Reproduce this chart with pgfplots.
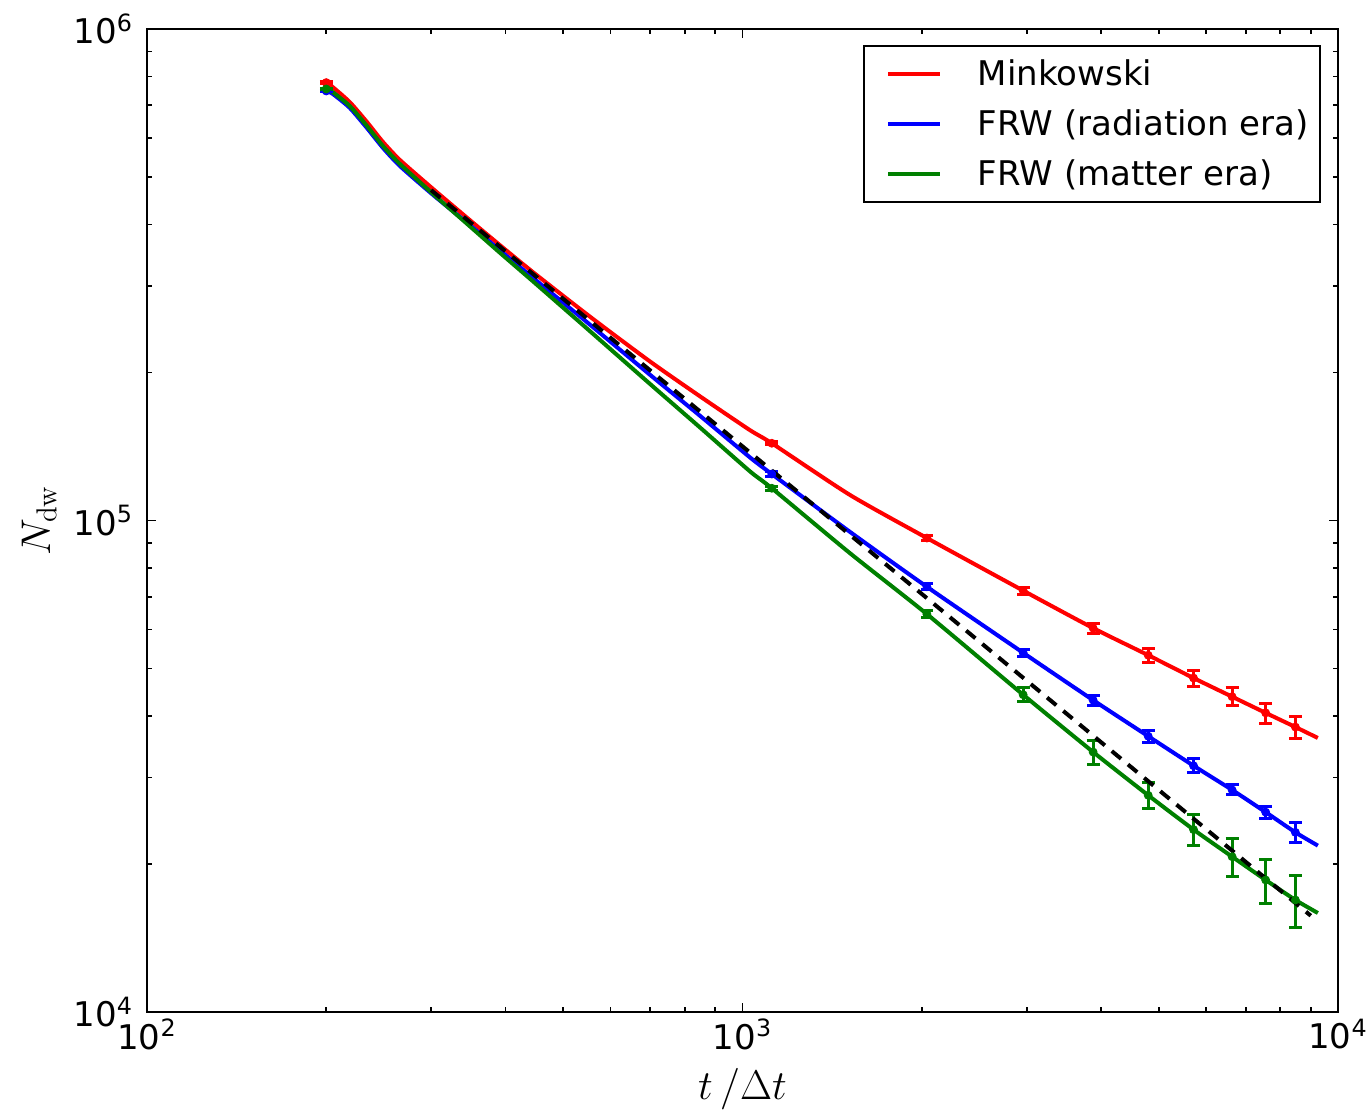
\documentclass[border=0pt]{standalone}
\usepackage[no-math]{fontspec}
\setmainfont{DejaVu Sans}
\usepackage{pgfplots}
\pgfplotsset{compat=1.18}

\definecolor{mplgreen}{rgb}{0,0.5,0}

\begin{document}
\begin{tikzpicture}
\useasboundingbox (-73.5pt,-51pt) rectangle (609.5pt,506pt);
\begin{axis}[
  at={(0pt,0pt)}, anchor=south west,
  scale only axis, width=595.5pt, height=491.5pt,
  xmode=log, ymode=log,
  xmin=100, xmax=10000, ymin=10000, ymax=1000000,
  axis line style={line width=1.2pt},
  tick align=inside,
  major tick length=4.7pt, minor tick length=2.5pt,
  tick style={black, line width=0.9pt},
  ticklabel style={font=\fontsize{17}{20}\selectfont},
  xticklabel={\pgfmathparse{int(round(\tick/ln(10)))}10\textsuperscript{\pgfmathresult}},
  yticklabel={\pgfmathparse{int(round(\tick/ln(10)))}10\textsuperscript{\pgfmathresult}},
  yticklabel style={xshift=-3.5pt},
  xlabel={$t\,/\Delta t$},
  ylabel={$N_{\mathrm{dw}}$},
  xlabel style={at={(axis description cs:0.5,-0.0895)}, anchor=base, font=\fontsize{20}{24}\selectfont},
  ylabel style={at={(axis description cs:-0.0907,0.5)}, anchor=center, font=\fontsize{20}{24}\selectfont},
  legend cell align=left,
  legend style={
    at={(1,1)}, anchor=north east, xshift=-8.65pt, yshift=-8pt,
    draw=black, line width=0.8pt, inner xsep=5.5pt, inner ysep=8pt,
    font=\fontsize{17}{20}\selectfont,
    row sep=13pt,
    nodes={inner sep=0pt, text height=12pt, text depth=0pt, anchor=west},
    /tikz/every odd column/.append style={column sep=17.85pt},
  },
  legend image code/.code={\path (0pt,0pt); \draw[#1] (5.65pt,0pt) -- (31.65pt,0pt);},
  errstyle/.style={only marks, mark=none, forget plot,
    error bars/.cd, y dir=both, y explicit, error mark=-,
    error bar style={#1, line width=1.5pt},
    error mark options={rotate=90, #1, line width=1.5pt, mark size=3.2pt}},
]

% Minkowski
\addplot[red, line width=2pt, smooth, tension=0.4] table {
t n
200 7.78e5
205 7.62e5
219 7.10e5
234 6.47e5
249 5.89e5
266 5.41e5
302 4.73e5
345 4.126e5
392 3.627e5
445 3.199e5
555 2.596e5
699 2.107e5
849 1.788e5
1029 1.527e5
1120 1.436e5
1515 1.127e5
2040 9.21e4
2960 7.20e4
3880 6.04e4
4800 5.32e4
5720 4.78e4
6640 4.38e4
7560 4.06e4
8480 3.80e4
9250 3.61e4
};
\addlegendentry{Minkowski}

% FRW radiation
\addplot[blue, line width=2pt, smooth, tension=0.4] table {
t n
200 7.48e5
205 7.38e5
219 6.91e5
234 6.29e5
249 5.73e5
266 5.26e5
302 4.60e5
345 4.03e5
392 3.54e5
445 3.115e5
555 2.50e5
699 1.980e5
849 1.632e5
1029 1.344e5
1120 1.243e5
1515 9.48e4
2040 7.33e4
2960 5.38e4
3880 4.31e4
4800 3.64e4
5720 3.17e4
6640 2.83e4
7560 2.55e4
8480 2.32e4
9250 2.18e4
};
\addlegendentry{FRW (radiation era)}

% FRW matter
\addplot[mplgreen, line width=2pt, smooth, tension=0.4] table {
t n
200 7.55e5
205 7.44e5
219 6.97e5
234 6.35e5
249 5.78e5
266 5.31e5
302 4.62e5
345 4.01e5
392 3.50e5
445 3.064e5
555 2.425e5
699 1.897e5
849 1.545e5
1029 1.259e5
1120 1.163e5
1515 8.58e4
2040 6.45e4
2960 4.42e4
3880 3.38e4
4800 2.76e4
5720 2.35e4
6640 2.07e4
7560 1.856e4
8480 1.69e4
9250 1.59e4
};
\addlegendentry{FRW (matter era)}

% error bars
\addplot[red, errstyle=red] table[x=t, y=n, y error=e] {
t n e
200 7.78e5 2550
1120 1.436e5 1009
2040 9.21e4 1079
2960 7.20e4 1181
3880 6.04e4 1415
4800 5.32e4 1745
5720 4.78e4 1792
6640 4.38e4 1847
7560 4.06e4 1902
8480 3.80e4 1958
};
\addplot[blue, errstyle=blue] table[x=t, y=n, y error=e] {
t n e
200 7.48e5 2000
1120 1.243e5 1339
2040 7.33e4 1030
2960 5.38e4 882
3880 4.31e4 1010
4800 3.64e4 1023
5720 3.17e4 1040
6640 2.83e4 663
7560 2.55e4 717
8480 2.32e4 1087
};
\addplot[mplgreen, errstyle=mplgreen] table[x=t, y=n, y error=e] {
t n e
200 7.55e5 2000
1120 1.163e5 1090
2040 6.45e4 1148
2960 4.42e4 1450
3880 3.38e4 1900
4800 2.76e4 1681
5720 2.35e4 1707
6640 2.07e4 1843
7560 1.856e4 1913
8480 1.69e4 2059
};

% power-law guide
\addplot[black, line width=2pt, dash pattern=on 6pt off 4.5pt, forget plot] coordinates {
(300,4.70e5) (2040,6.95e4) (9000,1.57e4)
};

\end{axis}
\end{tikzpicture}
\end{document}
